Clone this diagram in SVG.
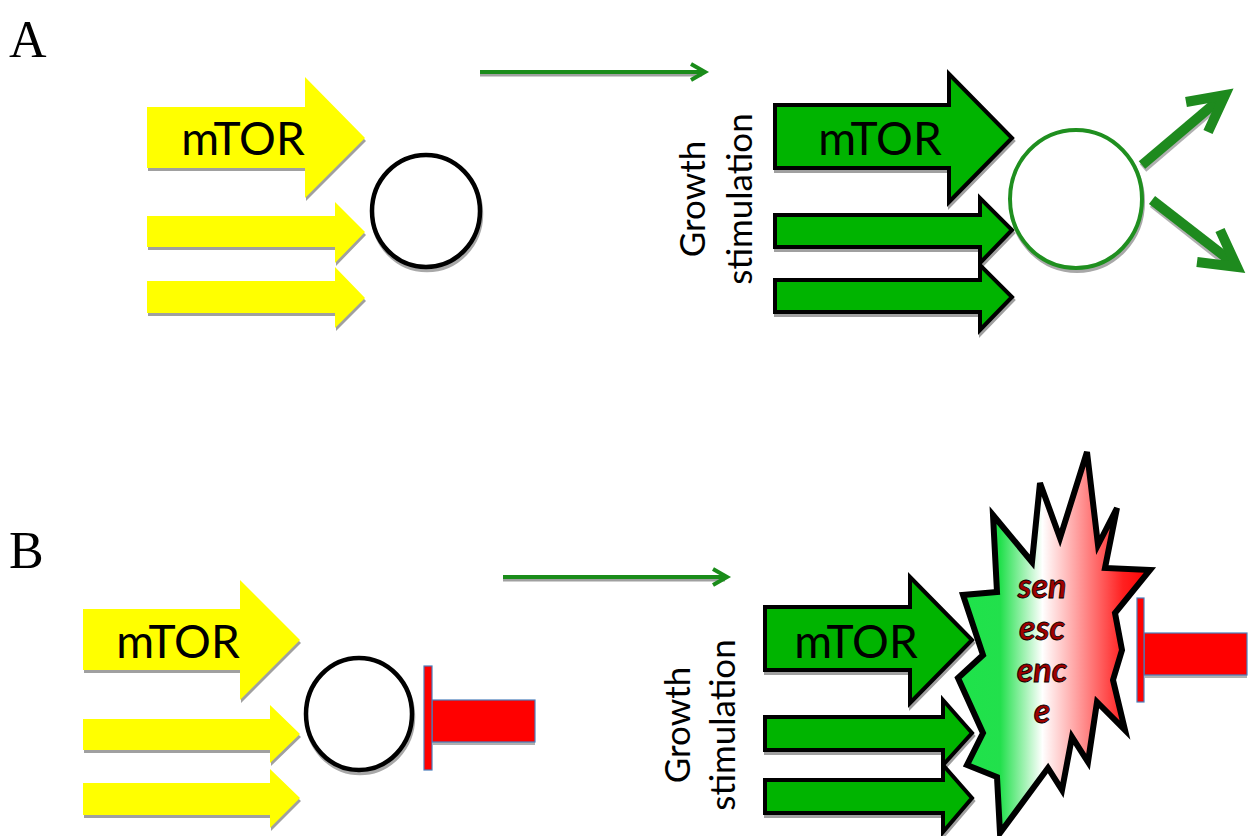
<svg xmlns="http://www.w3.org/2000/svg" xmlns:xlink="http://www.w3.org/1999/xlink" width="1252" height="836" viewBox="0 0 1252 836">
<style>
.bg{fill:#fff}
.lbl{font-family:"Liberation Serif","Times New Roman",serif;font-size:52px;fill:#000}
.yel{fill:#ffff00;stroke:none}
.grn{fill:#00b400;stroke:#000;stroke-width:4;stroke-linejoin:miter}
.shad{fill:#a0a0a0;stroke:none}
.shadS{fill:#a0a0a0;stroke:#a0a0a0;stroke-width:4}
.mtor{font-family:Lato,"Open Sans",sans-serif;font-size:46px;fill:#000;text-anchor:middle}
.gs{font-family:Lato,"Open Sans",sans-serif;font-size:35px;fill:#000;text-anchor:middle}
.circ{fill:#fff;stroke:#000;stroke-width:4.5}
.circSh{fill:none;stroke:#a8a8a8;stroke-width:4.5}
.gcirc{fill:#fff;stroke:#1f8f1f;stroke-width:4}
.conn{stroke:#1a8c1a;stroke-width:4;fill:none;stroke-linecap:butt}
.connSh{stroke:#a0a0a0;stroke-width:3;fill:none}
.out{stroke:#1e8a1e;stroke-width:10;fill:none;stroke-linecap:butt;stroke-linejoin:miter}
.outSh{stroke:#b0b0b0;stroke-width:10;fill:none}
.red{fill:#ff0000;stroke:#4a7ebb;stroke-width:1.2}
.burst{stroke:#000;stroke-width:6;stroke-linejoin:miter;fill:url(#sg)}
.sen{font-family:Lato,"Open Sans",sans-serif;font-size:34px;font-style:italic;font-weight:bold;fill:#a00000;stroke:#000;stroke-width:0.8;text-anchor:middle}
</style>
<defs>
<linearGradient id="sg" gradientUnits="userSpaceOnUse" x1="958" y1="0" x2="1150" y2="0">
<stop offset="0" stop-color="#1ee34a"/>
<stop offset="0.22" stop-color="#22e04c"/>
<stop offset="0.44" stop-color="#ffffff"/>
<stop offset="0.86" stop-color="#ff2020"/>
<stop offset="1" stop-color="#ff0000"/>
</linearGradient>
<path id="yA1" d="M147,107 H305 V77 L365,138 L305,198 V168 H147 Z"/>
<path id="yA2" d="M147,216 H335 V202 L365,232 L335,263 V247 H147 Z"/>
<path id="yA3" d="M147,281 H335 V267 L365,298 L335,328 V313 H147 Z"/>
<path id="yB1" d="M83,609 H240 V580 L300,640 L240,700 V670 H83 Z"/>
<path id="yB2" d="M83,719 H270 V705 L300,734 L270,763 V750 H83 Z"/>
<path id="yB3" d="M83,783 H270 V769 L300,798 L270,828 V815 H83 Z"/>
<path id="gA1" d="M775,105 H949 V74 L1012,138 L949,202 V168 H775 Z"/>
<path id="gA2" d="M775,215 H980 V198 L1012,230 L980,263 V247 H775 Z"/>
<path id="gA3" d="M775,280 H980 V265 L1012,297 L980,330 V312 H775 Z"/>
<path id="gB1" d="M765,607 H910 V577 L972,640 L910,703 V670 H765 Z"/>
<path id="gB2" d="M765,717 H943 V700 L972,733 L943,765 V750 H765 Z"/>
<path id="gB3" d="M765,780 H943 V765 L972,798 L943,832 V813 H765 Z"/>
</defs>
<rect class="bg" x="0" y="0" width="1252" height="836"/>

<g id="label-A"><text class="lbl" x="9" y="57">A</text></g>
<g id="label-B"><text class="lbl" x="9" y="568">B</text></g>

<g id="connectors">
<line class="connSh" x1="480" y1="75" x2="702" y2="75"/>
<line class="conn" x1="480" y1="72" x2="704" y2="72"/>
<polyline class="conn" points="691,64 705,72 691,80"/>
<line class="connSh" x1="503" y1="580" x2="725" y2="580"/>
<line class="conn" x1="503" y1="577" x2="726" y2="577"/>
<polyline class="conn" points="713,569 727,577 713,585"/>
</g>

<g id="A-mtor-yellow">
<use xlink:href="#yA1" class="shad" transform="translate(1,3)"/>
<use xlink:href="#yA1" class="yel"/>
<text class="mtor" x="243" y="155">mTOR</text>
</g>
<g id="A-yellow-2">
<use xlink:href="#yA2" class="shad" transform="translate(1,3)"/>
<use xlink:href="#yA2" class="yel"/>
</g>
<g id="A-yellow-3">
<use xlink:href="#yA3" class="shad" transform="translate(1,3)"/>
<use xlink:href="#yA3" class="yel"/>
</g>
<g id="A-circle">
<ellipse class="circSh" cx="427" cy="214" rx="54" ry="56"/>
<ellipse class="circ" cx="426" cy="211" rx="54" ry="56"/>
</g>

<g id="A-growth-label">
<text class="gs" transform="translate(705,199) rotate(-90)">Growth</text>
<text class="gs" transform="translate(752,199) rotate(-90)">stimulation</text>
</g>
<g id="A-mtor-green">
<use xlink:href="#gA1" class="shadS" transform="translate(1,3)"/>
<use xlink:href="#gA1" class="grn"/>
<text class="mtor" x="880" y="155">mTOR</text>
</g>
<g id="A-green-2">
<use xlink:href="#gA2" class="shadS" transform="translate(1,3)"/>
<use xlink:href="#gA2" class="grn"/>
</g>
<g id="A-green-3">
<use xlink:href="#gA3" class="shadS" transform="translate(1,3)"/>
<use xlink:href="#gA3" class="grn"/>
</g>
<g id="A-green-circle">
<ellipse class="circSh" cx="1077" cy="202" rx="66" ry="69" style="stroke-width:4"/>
<ellipse class="gcirc" cx="1076" cy="199" rx="66" ry="69"/>
</g>
<g id="A-outputs">
<line class="outSh" x1="1143" y1="168" x2="1220" y2="102"/>
<line class="out" x1="1142" y1="165" x2="1220" y2="99"/>
<polyline class="out" points="1186,102 1225,95 1208,132"/>
<line class="outSh" x1="1153" y1="203" x2="1230" y2="264"/>
<line class="out" x1="1152" y1="200" x2="1232" y2="262"/>
<polyline class="out" points="1197,262 1237,267 1220,230"/>
</g>

<g id="B-mtor-yellow">
<use xlink:href="#yB1" class="shad" transform="translate(1,3)"/>
<use xlink:href="#yB1" class="yel"/>
<text class="mtor" x="178" y="658">mTOR</text>
</g>
<g id="B-yellow-2">
<use xlink:href="#yB2" class="shad" transform="translate(1,3)"/>
<use xlink:href="#yB2" class="yel"/>
</g>
<g id="B-yellow-3">
<use xlink:href="#yB3" class="shad" transform="translate(1,3)"/>
<use xlink:href="#yB3" class="yel"/>
</g>
<g id="B-circle">
<ellipse class="circSh" cx="360" cy="717" rx="53" ry="56"/>
<ellipse class="circ" cx="359" cy="714" rx="53" ry="56"/>
</g>
<g id="B-inhibitor-left">
<rect x="433" y="703" width="102" height="42" fill="#b0b0b0"/>
<rect class="red" x="432" y="700" width="103" height="42"/>
<rect class="red" x="424" y="666" width="8" height="104"/>
</g>

<g id="B-growth-label">
<text class="gs" transform="translate(690,725) rotate(-90)">Growth</text>
<text class="gs" transform="translate(735,725) rotate(-90)">stimulation</text>
</g>
<g id="B-mtor-green">
<use xlink:href="#gB1" class="shadS" transform="translate(1,3)"/>
<use xlink:href="#gB1" class="grn"/>
<text class="mtor" x="856" y="658">mTOR</text>
</g>
<g id="B-green-2">
<use xlink:href="#gB2" class="shadS" transform="translate(1,3)"/>
<use xlink:href="#gB2" class="grn"/>
</g>
<g id="B-green-3">
<use xlink:href="#gB3" class="shadS" transform="translate(1,3)"/>
<use xlink:href="#gB3" class="grn"/>
</g>
<g id="B-senescence">
<path class="burst" d="M1087,452 L1098,545 L1117,508 L1105,568 L1150,570 L1115,613 L1122,650 L1113,680 L1125,730 L1097,702 L1088,762 L1072,737 L1062,790 L1048,768 L1000,833 L997,777 L967,765 L983,733 L958,678 L983,655 L963,595 L997,592 L993,515 L1032,562 L1040,483 L1060,538 Z"/>
<text class="sen" x="1042" y="598">sen</text>
<text class="sen" x="1042" y="640">esc</text>
<text class="sen" x="1042" y="682">enc</text>
<text class="sen" x="1042" y="723">e</text>
</g>
<g id="B-inhibitor-right">
<rect x="1145" y="636" width="102" height="42" fill="#b0b0b0"/>
<rect class="red" x="1144" y="633" width="103" height="42"/>
<rect class="red" x="1137" y="598" width="7" height="104"/>
</g>
</svg>
